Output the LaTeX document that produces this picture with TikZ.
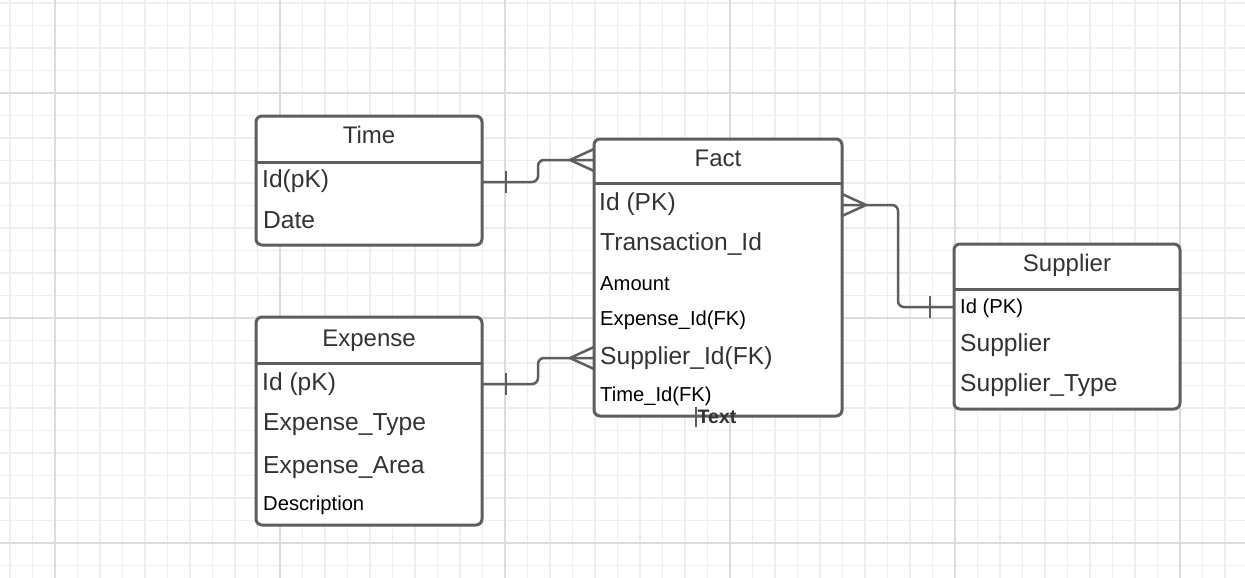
\documentclass[tikz,border=0pt]{standalone}
\usepackage{fontspec}
\setmainfont{Liberation Sans}
\usetikzlibrary{calc}
\definecolor{gridminor}{HTML}{EEEEEE}
\definecolor{gridmajor}{HTML}{DCDCDC}
\definecolor{boxline}{HTML}{5E5E5E}
\definecolor{bigtext}{HTML}{333333}
\begin{document}
\begin{tikzpicture}[x=1pt,y=-1pt,
  tbl/.style={draw=boxline,line width=3pt,rounded corners=6pt,inner sep=0pt,outer sep=0pt,anchor=north west,fill=white},
  big/.style={font=\fontsize{24.6}{29}\selectfont,text=bigtext,inner sep=0pt,anchor=base west},
  small/.style={font=\fontsize{20.2}{24}\selectfont,text=black,inner sep=0pt,anchor=base west},
  head/.style={font=\fontsize{24}{29}\selectfont,text=bigtext,inner sep=0pt,anchor=base},
  conn/.style={draw=boxline,line width=2.5pt},
  divider/.style={draw=boxline,line width=3pt},
  gminor/.style={draw=gridminor,line width=1.3pt},
  gmajor/.style={draw=gridmajor,line width=1.8pt}]
\useasboundingbox[fill=white] (0,0) rectangle (1245,578);
% grid
\foreach \i in {0,...,55} \draw[gminor] ({10+22.5*\i},0) -- ({10+22.5*\i},578);
\foreach \j in {0,...,25} \draw[gminor] (0,{3+22.5*\j}) -- (1245,{3+22.5*\j});
\foreach \xx in {55,280,505,730,955,1180} \draw[gmajor] (\xx,0) -- (\xx,578);
\foreach \yy in {93,318,543} \draw[gmajor] (0,\yy) -- (1245,\yy);

% Time table
\node[tbl,minimum width=226pt,minimum height=129pt] (time) at (256,116) {};
\draw[divider] ($(time.north west)+(0,46)$) -- ($(time.north east)+(0,46)$);
\node[head] (timeH) at ($(time.north)+(0,27.3)$) {Time};
\node[big] (timeId) at (262,187.3) {Id(pK)};
\node[big] (timeDate) at (263,228.3) {Date};

% Expense table
\node[tbl,minimum width=226pt,minimum height=208pt] (expense) at (256,317) {};
\draw[divider] ($(expense.north west)+(0,46)$) -- ($(expense.north east)+(0,46)$);
\node[head] (expH) at ($(expense.north)+(0,29)$) {Expense};
\node[big] (expId) at (262,390) {Id (pK)};
\node[big] (expType) at (263,430.7) {Expense\_Type};
\node[big] (expArea) at (263,473.3) {Expense\_Area};
\node[small] (expDesc) at (263,510) {Description};

% Fact table
\node[tbl,minimum width=248pt,minimum height=277pt] (fact) at (594,139) {};
\draw[divider] ($(fact.north west)+(0,44)$) -- ($(fact.north east)+(0,44)$);
\node[head] (factH) at ($(fact.north)+(0,27)$) {Fact};
\node[big] (factId) at (599,210) {Id (PK)};
\node[big] (factTr) at (600,250.7) {Transaction\_Id};
\node[small] (factAm) at (600,290) {Amount};
\node[small] (factEx) at (600,325.7) {Expense\_Id(FK)};
\node[big] (factSu) at (600,364.5) {Supplier\_Id(FK)};
\node[small] (factTi) at (600,401.7) {Time\_Id(FK)};

% Supplier table
\node[tbl,minimum width=226pt,minimum height=165pt] (supplier) at (954,244) {};
\draw[divider] ($(supplier.north west)+(0,45)$) -- ($(supplier.north east)+(0,45)$);
\node[head] (supH) at ($(supplier.north)+(0,27)$) {Supplier};
\node[small] (supId) at (960,313.3) {Id (PK)};
\node[big] (supName) at (960,351.7) {Supplier};
\node[big] (supType) at (960,391.7) {Supplier\_Type};

% connector attach points
\coordinate (tA) at ($(time.north east)+(0,66)$);
\coordinate (eA) at ($(expense.north east)+(0,67)$);
\coordinate (fT) at ($(fact.north west)+(0,21)$);
\coordinate (fE) at ($(fact.north west)+(0,219)$);
\coordinate (fR) at ($(fact.north east)+(0,66)$);
\coordinate (sA) at ($(supplier.north west)+(0,63)$);

% Time -> Fact
\draw[conn,rounded corners=6pt] (tA) -| ($(tA)!0.5!(fT)$) |- (fT);
\draw[conn] ($(tA)+(24,-11)$) -- ($(tA)+(24,11)$);
\draw[conn] ($(fT)+(0,-11)$) -- ($(fT)+(-24,0)$) -- ($(fT)+(0,11)$);

% Expense -> Fact
\draw[conn,rounded corners=6pt] (eA) -| ($(eA)!0.5!(fE)$) |- (fE);
\draw[conn] ($(eA)+(24,-11)$) -- ($(eA)+(24,11)$);
\draw[conn] ($(fE)+(0,-11)$) -- ($(fE)+(-24,0)$) -- ($(fE)+(0,11)$);

% Fact -> Supplier
\draw[conn,rounded corners=6pt] (fR) -| ($(fR)!0.5!(sA)$) |- (sA);
\draw[conn] ($(sA)+(-24,-11)$) -- ($(sA)+(-24,11)$);
\draw[conn] ($(fR)+(0,-11)$) -- ($(fR)+(24,0)$) -- ($(fR)+(0,11)$);

% dangling end with label
\coordinate (tx) at ($(fact.south west)+(102,0)$);
\draw[conn] ($(tx)+(0,-9)$) -- ($(tx)+(0,11)$);
\node[font=\bfseries\fontsize{19.5}{23}\selectfont,text=bigtext,inner sep=0pt,anchor=base west] (txtLabel) at ($(tx)+(1.5,7)$) {Text};
\end{tikzpicture}
\end{document}
